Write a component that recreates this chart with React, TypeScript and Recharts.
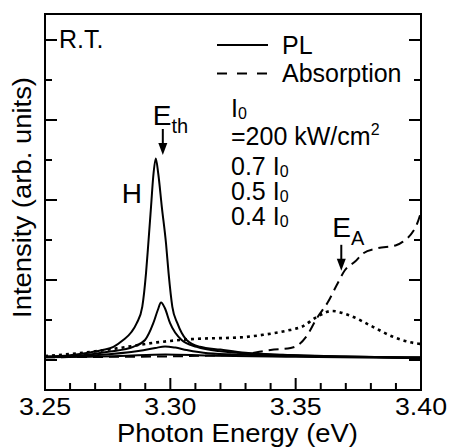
import React from 'react';
import { ComposedChart, Line, XAxis, YAxis, ReferenceDot } from 'recharts';

const W = 449;
const H = 448;
const FONT = '"Liberation Sans", Arial, Helvetica, sans-serif';

// Axis ticks
const xTicks = [3.25, 3.26, 3.27, 3.28, 3.29, 3.3, 3.31, 3.32, 3.33, 3.34, 3.35, 3.36, 3.37, 3.38, 3.39, 3.4];
const xMajorTicks = [3.25, 3.3, 3.35, 3.4];
const yTicks = [0, 1, 2, 3, 4, 5, 6, 7, 8];
const yMajorTicks = [0, 2, 4, 6, 8];

// PL spectra (solid)
const plI0 = [
  { e: 3.25, v: 0.08 }, { e: 3.26, v: 0.12 }, { e: 3.268, v: 0.19 }, { e: 3.273, v: 0.25 },
  { e: 3.2773, v: 0.33 }, { e: 3.2812, v: 0.5 }, { e: 3.2845, v: 0.7 }, { e: 3.2866, v: 0.92 },
  { e: 3.2888, v: 1.33 }, { e: 3.2903, v: 2.17 }, { e: 3.2912, v: 2.9 }, { e: 3.2923, v: 3.83 },
  { e: 3.2932, v: 4.6 }, { e: 3.2942, v: 5.04 }, { e: 3.2952, v: 4.65 }, { e: 3.2966, v: 3.83 },
  { e: 3.2983, v: 2.9 }, { e: 3.2993, v: 2.17 }, { e: 3.3008, v: 1.33 }, { e: 3.3028, v: 0.92 },
  { e: 3.3045, v: 0.68 }, { e: 3.3065, v: 0.5 }, { e: 3.3118, v: 0.33 }, { e: 3.32, v: 0.26 },
  { e: 3.33, v: 0.18 }, { e: 3.345, v: 0.13 }, { e: 3.37, v: 0.09 }, { e: 3.4, v: 0.06 },
];
const pl07 = [
  { e: 3.25, v: 0.08 }, { e: 3.265, v: 0.12 }, { e: 3.2759, v: 0.21 }, { e: 3.2852, v: 0.33 },
  { e: 3.2899, v: 0.5 }, { e: 3.2932, v: 0.92 }, { e: 3.295, v: 1.25 }, { e: 3.2963, v: 1.44 },
  { e: 3.2978, v: 1.3 }, { e: 3.2999, v: 0.92 }, { e: 3.3045, v: 0.5 }, { e: 3.3105, v: 0.33 },
  { e: 3.321, v: 0.21 }, { e: 3.335, v: 0.15 }, { e: 3.36, v: 0.1 }, { e: 3.4, v: 0.06 },
];
const pl05 = [
  { e: 3.25, v: 0.08 }, { e: 3.27, v: 0.12 }, { e: 3.2879, v: 0.23 }, { e: 3.294, v: 0.3 },
  { e: 3.2979, v: 0.34 }, { e: 3.302, v: 0.31 }, { e: 3.3065, v: 0.25 }, { e: 3.315, v: 0.17 },
  { e: 3.33, v: 0.13 }, { e: 3.36, v: 0.09 }, { e: 3.4, v: 0.06 },
];
const pl04 = [
  { e: 3.25, v: 0.07 }, { e: 3.28, v: 0.1 }, { e: 3.298, v: 0.14 }, { e: 3.315, v: 0.11 },
  { e: 3.35, v: 0.08 }, { e: 3.4, v: 0.05 },
];

// Absorption (dashed)
const absorption = [
  { e: 3.25, v: 0.07 }, { e: 3.28, v: 0.08 }, { e: 3.3, v: 0.09 }, { e: 3.32, v: 0.12 },
  { e: 3.33, v: 0.15 }, { e: 3.34, v: 0.25 }, { e: 3.348, v: 0.3 }, { e: 3.3515, v: 0.4 },
  { e: 3.3544, v: 0.6 }, { e: 3.3584, v: 1.04 }, { e: 3.363, v: 1.46 }, { e: 3.3664, v: 1.875 },
  { e: 3.3697, v: 2.25 }, { e: 3.3737, v: 2.46 }, { e: 3.377, v: 2.67 }, { e: 3.3823, v: 2.79 },
  { e: 3.3903, v: 2.875 }, { e: 3.3928, v: 2.96 }, { e: 3.3968, v: 3.21 }, { e: 3.3984, v: 3.4 },
  { e: 3.4, v: 3.7 },
];

// Dotted spectrum
const dotted = [
  { e: 3.25, v: 0.1 }, { e: 3.265, v: 0.18 }, { e: 3.2786, v: 0.29 }, { e: 3.2946, v: 0.44 },
  { e: 3.3078, v: 0.52 }, { e: 3.329, v: 0.57 }, { e: 3.337, v: 0.63 }, { e: 3.3477, v: 0.75 },
  { e: 3.3524, v: 0.83 }, { e: 3.3584, v: 1.075 }, { e: 3.3644, v: 1.225 }, { e: 3.371, v: 1.125 },
  { e: 3.3808, v: 0.83 }, { e: 3.3888, v: 0.58 }, { e: 3.3976, v: 0.42 }, { e: 3.4, v: 0.4 },
];

// Annotation anchors (data coordinates)
const rtPos = { e: 3.2556, v: 7.8 };
const hPos = { e: 3.2806, v: 3.92 };
const ethPos = { e: 3.293, v: 5.87 };
const ethArrow = { e: 3.297, v: 5.125 };
const eaPos = { e: 3.3646, v: 3.075 };
const eaArrow = { e: 3.3682, v: 2.23 };

const isMajorX = (v: number) => xMajorTicks.some((t) => Math.abs(t - v) < 1e-6);
const isMajorY = (v: number) => yMajorTicks.some((t) => Math.abs(t - v) < 1e-6);

const BottomTick = (props: any) => {
  const { x, y, payload } = props;
  const major = isMajorX(payload.value);
  return (
    <g>
      <line x1={x} x2={x} y1={y} y2={y - (major ? 12 : 7)} stroke="#000" strokeWidth={2} />
      {major && (
        <text x={x} y={y + 25} textAnchor="middle" fontSize={24} textLength={52}
          lengthAdjust="spacingAndGlyphs" fontFamily={FONT} fill="#000">
          {Number(payload.value).toFixed(2)}
        </text>
      )}
    </g>
  );
};
const TopTick = (props: any) => {
  const { x, y, payload } = props;
  const major = isMajorX(payload.value);
  return <line x1={x} x2={x} y1={y} y2={y + (major ? 12 : 7)} stroke="#000" strokeWidth={2} />;
};
const LeftTick = (props: any) => {
  const { x, y, payload } = props;
  const major = isMajorY(payload.value);
  return <line x1={x} x2={x + (major ? 12 : 7)} y1={y} y2={y} stroke="#000" strokeWidth={2} />;
};
const RightTick = (props: any) => {
  const { x, y, payload } = props;
  const major = isMajorY(payload.value);
  return <line x1={x} x2={x - (major ? 12 : 7)} y1={y} y2={y} stroke="#000" strokeWidth={2} />;
};

const Arrow = (props: any) => {
  const { cx, cy } = props;
  return (
    <g>
      <line x1={cx} x2={cx} y1={cy - 26} y2={cy - 8} stroke="#000" strokeWidth={2} />
      <path d={`M${cx - 4.5},${cy - 12} L${cx + 4.5},${cy - 12} L${cx},${cy} Z`} fill="#000" />
    </g>
  );
};

const txt = { fontFamily: FONT, fill: '#000' } as const;

export default function App() {
  const axisLine = { stroke: '#000', strokeWidth: 2, strokeLinecap: 'square' as const };
  return (
    <div style={{ position: 'absolute', left: 0, top: 0, width: W, height: H }}>
      <ComposedChart width={W} height={H} margin={{ top: 13, right: 27, bottom: 57, left: 44 }}>
        <XAxis
          xAxisId="b" dataKey="e" type="number" domain={[3.25, 3.4]} allowDataOverflow
          ticks={xTicks} interval={0} height={1} tickSize={0} tickMargin={0}
          tickLine={false} axisLine={axisLine} tick={<BottomTick />}
          label={{
            content: () => (
              <text x={237.5} y={442} textAnchor="middle" fontSize={25} textLength={241}
                lengthAdjust="spacingAndGlyphs" {...txt}>Photon Energy (eV)</text>
            ),
          }}
        />
        <XAxis
          xAxisId="t" orientation="top" type="number" domain={[3.25, 3.4]} allowDataOverflow
          ticks={xTicks} interval={0} height={1} tickSize={0} tickMargin={0}
          tickLine={false} axisLine={axisLine} tick={<TopTick />}
        />
        <YAxis
          yAxisId="l" type="number" domain={[-0.75, 8.65]} allowDataOverflow
          ticks={yTicks} interval={0} width={1} tickSize={0} tickMargin={0}
          tickLine={false} axisLine={axisLine} tick={<LeftTick />}
          label={{
            content: () => (
              <text x={31} y={197.5} textAnchor="middle" fontSize={26} textLength={241}
                lengthAdjust="spacingAndGlyphs" transform="rotate(-90 31 197.5)" {...txt}>
                Intensity (arb. units)
              </text>
            ),
          }}
        />
        <YAxis
          yAxisId="r" orientation="right" type="number" domain={[-0.75, 8.65]} allowDataOverflow
          ticks={yTicks} interval={0} width={1} tickSize={0} tickMargin={0}
          tickLine={false} axisLine={axisLine} tick={<RightTick />}
        />

        <Line xAxisId="b" yAxisId="l" data={dotted} dataKey="v" type="monotone" stroke="#000"
          strokeWidth={2.6} strokeDasharray="3 4" dot={false} isAnimationActive={false} />
        <Line xAxisId="b" yAxisId="l" data={absorption} dataKey="v" type="monotone" stroke="#000"
          strokeWidth={2} strokeDasharray="10 6" dot={false} isAnimationActive={false} />
        <Line xAxisId="b" yAxisId="l" data={pl04} dataKey="v" type="monotone" stroke="#000"
          strokeWidth={2} dot={false} isAnimationActive={false} />
        <Line xAxisId="b" yAxisId="l" data={pl05} dataKey="v" type="monotone" stroke="#000"
          strokeWidth={2} dot={false} isAnimationActive={false} />
        <Line xAxisId="b" yAxisId="l" data={pl07} dataKey="v" type="monotone" stroke="#000"
          strokeWidth={2} dot={false} isAnimationActive={false} />
        <Line xAxisId="b" yAxisId="l" data={plI0} dataKey="v" type="monotone" stroke="#000"
          strokeWidth={2} dot={false} isAnimationActive={false} />

        <ReferenceDot xAxisId="b" yAxisId="l" x={rtPos.e} y={rtPos.v} r={0}
          shape={(p: any) => <text x={p.cx} y={p.cy} fontSize={25} {...txt}>R.T.</text>} />
        <ReferenceDot xAxisId="b" yAxisId="l" x={hPos.e} y={hPos.v} r={0}
          shape={(p: any) => <text x={p.cx} y={p.cy} fontSize={28} {...txt}>H</text>} />
        <ReferenceDot xAxisId="b" yAxisId="l" x={ethPos.e} y={ethPos.v} r={0}
          shape={(p: any) => (
            <text x={p.cx} y={p.cy} fontSize={28} {...txt}>
              E<tspan fontSize={20} dy={8}>th</tspan>
            </text>
          )} />
        <ReferenceDot xAxisId="b" yAxisId="l" x={ethArrow.e} y={ethArrow.v} r={0} shape={<Arrow />} />
        <ReferenceDot xAxisId="b" yAxisId="l" x={eaPos.e} y={eaPos.v} r={0}
          shape={(p: any) => (
            <text x={p.cx} y={p.cy} fontSize={28} {...txt}>
              E<tspan fontSize={20} dy={8}>A</tspan>
            </text>
          )} />
        <ReferenceDot xAxisId="b" yAxisId="l" x={eaArrow.e} y={eaArrow.v} r={0} shape={<Arrow />} />
      </ComposedChart>

      <svg width={W} height={H} style={{ position: 'absolute', left: 0, top: 0, pointerEvents: 'none' }}>
        <line x1={217} x2={268} y1={45} y2={45} stroke="#000" strokeWidth={2} />
        <text x={282} y={53.5} fontSize={25} {...txt}>PL</text>
        <line x1={217} x2={268} y1={73.5} y2={73.5} stroke="#000" strokeWidth={2} strokeDasharray="10 10" />
        <text x={282} y={82} fontSize={25} {...txt}>Absorption</text>

        <text x={231} y={117} fontSize={25} {...txt}>I<tspan fontSize={16} dy={2}>0</tspan></text>
        <text x={231} y={144.5} fontSize={25} {...txt}>=200 kW/cm<tspan fontSize={16} dy={-10}>2</tspan></text>
        <text x={231} y={175} fontSize={25} {...txt}>0.7 I<tspan fontSize={16} dy={2}>0</tspan></text>
        <text x={231} y={200} fontSize={25} {...txt}>0.5 I<tspan fontSize={16} dy={2}>0</tspan></text>
        <text x={231} y={225} fontSize={25} {...txt}>0.4 I<tspan fontSize={16} dy={2}>0</tspan></text>
      </svg>
    </div>
  );
}
